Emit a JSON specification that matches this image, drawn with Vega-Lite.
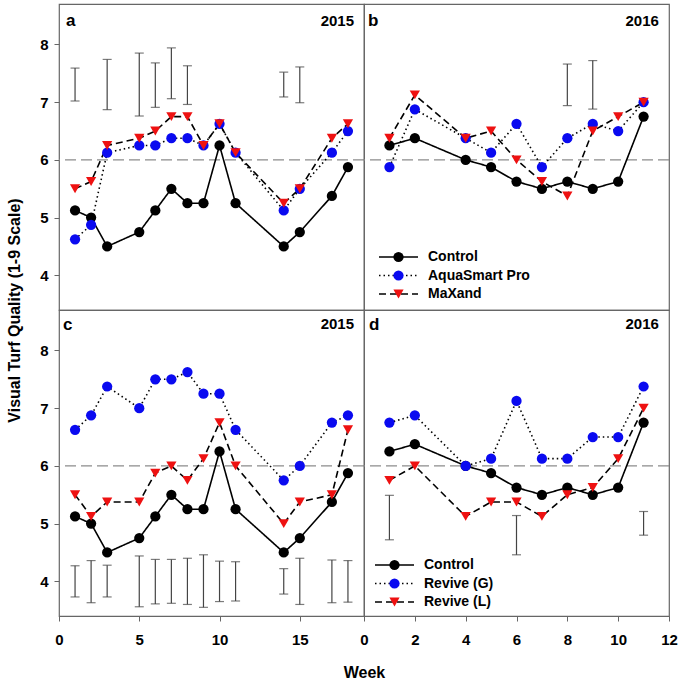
{
  "$schema": "https://vega.github.io/schema/vega-lite/v6.json",
  "background": "white",
  "padding": {"left": 6, "top": 3, "right": 0, "bottom": 0},
  "columns": 2,
  "spacing": 0,
  "bounds": "flush",
  "resolve": {
    "scale": {"x": "independent", "y": "independent", "color": "independent", "shape": "independent", "strokeDash": "independent"},
    "axis": {"x": "independent", "y": "independent"},
    "legend": {"color": "independent", "shape": "independent", "strokeDash": "independent"}
  },
  "datasets": {
    "panels": [
      {"panel": "a", "year": "2015"},
      {"panel": "b", "year": "2016"},
      {"panel": "c", "year": "2015"},
      {"panel": "d", "year": "2016"}
    ],
    "lsd": [
      {"panel": "a", "week": 1, "lo": 7.02, "hi": 7.59},
      {"panel": "a", "week": 3, "lo": 6.87, "hi": 7.74},
      {"panel": "a", "week": 5, "lo": 6.76, "hi": 7.85},
      {"panel": "a", "week": 6, "lo": 6.91, "hi": 7.68},
      {"panel": "a", "week": 7, "lo": 7.06, "hi": 7.94},
      {"panel": "a", "week": 8, "lo": 6.96, "hi": 7.63},
      {"panel": "a", "week": 14, "lo": 7.09, "hi": 7.52},
      {"panel": "a", "week": 15, "lo": 6.99, "hi": 7.61},
      {"panel": "b", "week": 8, "lo": 6.94, "hi": 7.66},
      {"panel": "b", "week": 9, "lo": 6.88, "hi": 7.72},
      {"panel": "c", "week": 1, "lo": 3.73, "hi": 4.27},
      {"panel": "c", "week": 2, "lo": 3.63, "hi": 4.36},
      {"panel": "c", "week": 3, "lo": 3.73, "hi": 4.28},
      {"panel": "c", "week": 5, "lo": 3.56, "hi": 4.44},
      {"panel": "c", "week": 6, "lo": 3.61, "hi": 4.38},
      {"panel": "c", "week": 7, "lo": 3.62, "hi": 4.38},
      {"panel": "c", "week": 8, "lo": 3.6, "hi": 4.4},
      {"panel": "c", "week": 9, "lo": 3.55, "hi": 4.46},
      {"panel": "c", "week": 10, "lo": 3.65, "hi": 4.35},
      {"panel": "c", "week": 11, "lo": 3.66, "hi": 4.34},
      {"panel": "c", "week": 14, "lo": 3.78, "hi": 4.22},
      {"panel": "c", "week": 15, "lo": 3.6, "hi": 4.4},
      {"panel": "c", "week": 17, "lo": 3.63, "hi": 4.37},
      {"panel": "c", "week": 18, "lo": 3.64, "hi": 4.36},
      {"panel": "d", "week": 1, "lo": 4.72, "hi": 5.49},
      {"panel": "d", "week": 6, "lo": 4.46, "hi": 5.14},
      {"panel": "d", "week": 11, "lo": 4.8, "hi": 5.21}
    ],
    "obs": [
      {"panel": "a", "series": "Control", "week": 1, "vtq": 5.125},
      {"panel": "a", "series": "Control", "week": 2, "vtq": 5.0},
      {"panel": "a", "series": "Control", "week": 3, "vtq": 4.5},
      {"panel": "a", "series": "Control", "week": 5, "vtq": 4.75},
      {"panel": "a", "series": "Control", "week": 6, "vtq": 5.125},
      {"panel": "a", "series": "Control", "week": 7, "vtq": 5.5},
      {"panel": "a", "series": "Control", "week": 8, "vtq": 5.25},
      {"panel": "a", "series": "Control", "week": 9, "vtq": 5.25},
      {"panel": "a", "series": "Control", "week": 10, "vtq": 6.25},
      {"panel": "a", "series": "Control", "week": 11, "vtq": 5.25},
      {"panel": "a", "series": "Control", "week": 14, "vtq": 4.5},
      {"panel": "a", "series": "Control", "week": 15, "vtq": 4.75},
      {"panel": "a", "series": "Control", "week": 17, "vtq": 5.375},
      {"panel": "a", "series": "Control", "week": 18, "vtq": 5.875},
      {"panel": "a", "series": "AquaSmart Pro", "week": 1, "vtq": 4.625},
      {"panel": "a", "series": "AquaSmart Pro", "week": 2, "vtq": 4.875},
      {"panel": "a", "series": "AquaSmart Pro", "week": 3, "vtq": 6.125},
      {"panel": "a", "series": "AquaSmart Pro", "week": 5, "vtq": 6.25},
      {"panel": "a", "series": "AquaSmart Pro", "week": 6, "vtq": 6.25},
      {"panel": "a", "series": "AquaSmart Pro", "week": 7, "vtq": 6.375},
      {"panel": "a", "series": "AquaSmart Pro", "week": 8, "vtq": 6.375},
      {"panel": "a", "series": "AquaSmart Pro", "week": 9, "vtq": 6.25},
      {"panel": "a", "series": "AquaSmart Pro", "week": 10, "vtq": 6.625},
      {"panel": "a", "series": "AquaSmart Pro", "week": 11, "vtq": 6.125},
      {"panel": "a", "series": "AquaSmart Pro", "week": 14, "vtq": 5.125},
      {"panel": "a", "series": "AquaSmart Pro", "week": 15, "vtq": 5.5},
      {"panel": "a", "series": "AquaSmart Pro", "week": 17, "vtq": 6.125},
      {"panel": "a", "series": "AquaSmart Pro", "week": 18, "vtq": 6.5},
      {"panel": "a", "series": "MaXand", "week": 1, "vtq": 5.5},
      {"panel": "a", "series": "MaXand", "week": 2, "vtq": 5.625},
      {"panel": "a", "series": "MaXand", "week": 3, "vtq": 6.25},
      {"panel": "a", "series": "MaXand", "week": 5, "vtq": 6.375},
      {"panel": "a", "series": "MaXand", "week": 6, "vtq": 6.5},
      {"panel": "a", "series": "MaXand", "week": 7, "vtq": 6.75},
      {"panel": "a", "series": "MaXand", "week": 8, "vtq": 6.75},
      {"panel": "a", "series": "MaXand", "week": 9, "vtq": 6.25},
      {"panel": "a", "series": "MaXand", "week": 10, "vtq": 6.625},
      {"panel": "a", "series": "MaXand", "week": 11, "vtq": 6.125},
      {"panel": "a", "series": "MaXand", "week": 14, "vtq": 5.25},
      {"panel": "a", "series": "MaXand", "week": 15, "vtq": 5.5},
      {"panel": "a", "series": "MaXand", "week": 17, "vtq": 6.375},
      {"panel": "a", "series": "MaXand", "week": 18, "vtq": 6.625},
      {"panel": "b", "series": "Control", "week": 1, "vtq": 6.25},
      {"panel": "b", "series": "Control", "week": 2, "vtq": 6.375},
      {"panel": "b", "series": "Control", "week": 4, "vtq": 6.0},
      {"panel": "b", "series": "Control", "week": 5, "vtq": 5.875},
      {"panel": "b", "series": "Control", "week": 6, "vtq": 5.625},
      {"panel": "b", "series": "Control", "week": 7, "vtq": 5.5},
      {"panel": "b", "series": "Control", "week": 8, "vtq": 5.625},
      {"panel": "b", "series": "Control", "week": 9, "vtq": 5.5},
      {"panel": "b", "series": "Control", "week": 10, "vtq": 5.625},
      {"panel": "b", "series": "Control", "week": 11, "vtq": 6.75},
      {"panel": "b", "series": "AquaSmart Pro", "week": 1, "vtq": 5.875},
      {"panel": "b", "series": "AquaSmart Pro", "week": 2, "vtq": 6.875},
      {"panel": "b", "series": "AquaSmart Pro", "week": 4, "vtq": 6.375},
      {"panel": "b", "series": "AquaSmart Pro", "week": 5, "vtq": 6.125},
      {"panel": "b", "series": "AquaSmart Pro", "week": 6, "vtq": 6.625},
      {"panel": "b", "series": "AquaSmart Pro", "week": 7, "vtq": 5.875},
      {"panel": "b", "series": "AquaSmart Pro", "week": 8, "vtq": 6.375},
      {"panel": "b", "series": "AquaSmart Pro", "week": 9, "vtq": 6.625},
      {"panel": "b", "series": "AquaSmart Pro", "week": 10, "vtq": 6.5},
      {"panel": "b", "series": "AquaSmart Pro", "week": 11, "vtq": 7.0},
      {"panel": "b", "series": "MaXand", "week": 1, "vtq": 6.375},
      {"panel": "b", "series": "MaXand", "week": 2, "vtq": 7.125},
      {"panel": "b", "series": "MaXand", "week": 4, "vtq": 6.375},
      {"panel": "b", "series": "MaXand", "week": 5, "vtq": 6.5},
      {"panel": "b", "series": "MaXand", "week": 6, "vtq": 6.0},
      {"panel": "b", "series": "MaXand", "week": 7, "vtq": 5.625},
      {"panel": "b", "series": "MaXand", "week": 8, "vtq": 5.375},
      {"panel": "b", "series": "MaXand", "week": 9, "vtq": 6.5},
      {"panel": "b", "series": "MaXand", "week": 10, "vtq": 6.75},
      {"panel": "b", "series": "MaXand", "week": 11, "vtq": 7.0},
      {"panel": "c", "series": "Control", "week": 1, "vtq": 5.125},
      {"panel": "c", "series": "Control", "week": 2, "vtq": 5.0},
      {"panel": "c", "series": "Control", "week": 3, "vtq": 4.5},
      {"panel": "c", "series": "Control", "week": 5, "vtq": 4.75},
      {"panel": "c", "series": "Control", "week": 6, "vtq": 5.125},
      {"panel": "c", "series": "Control", "week": 7, "vtq": 5.5},
      {"panel": "c", "series": "Control", "week": 8, "vtq": 5.25},
      {"panel": "c", "series": "Control", "week": 9, "vtq": 5.25},
      {"panel": "c", "series": "Control", "week": 10, "vtq": 6.25},
      {"panel": "c", "series": "Control", "week": 11, "vtq": 5.25},
      {"panel": "c", "series": "Control", "week": 14, "vtq": 4.5},
      {"panel": "c", "series": "Control", "week": 15, "vtq": 4.75},
      {"panel": "c", "series": "Control", "week": 17, "vtq": 5.375},
      {"panel": "c", "series": "Control", "week": 18, "vtq": 5.875},
      {"panel": "c", "series": "Revive (G)", "week": 1, "vtq": 6.625},
      {"panel": "c", "series": "Revive (G)", "week": 2, "vtq": 6.875},
      {"panel": "c", "series": "Revive (G)", "week": 3, "vtq": 7.375},
      {"panel": "c", "series": "Revive (G)", "week": 5, "vtq": 7.0},
      {"panel": "c", "series": "Revive (G)", "week": 6, "vtq": 7.5},
      {"panel": "c", "series": "Revive (G)", "week": 7, "vtq": 7.5},
      {"panel": "c", "series": "Revive (G)", "week": 8, "vtq": 7.625},
      {"panel": "c", "series": "Revive (G)", "week": 9, "vtq": 7.25},
      {"panel": "c", "series": "Revive (G)", "week": 10, "vtq": 7.25},
      {"panel": "c", "series": "Revive (G)", "week": 11, "vtq": 6.625},
      {"panel": "c", "series": "Revive (G)", "week": 14, "vtq": 5.75},
      {"panel": "c", "series": "Revive (G)", "week": 15, "vtq": 6.0},
      {"panel": "c", "series": "Revive (G)", "week": 17, "vtq": 6.75},
      {"panel": "c", "series": "Revive (G)", "week": 18, "vtq": 6.875},
      {"panel": "c", "series": "Revive (L)", "week": 1, "vtq": 5.5},
      {"panel": "c", "series": "Revive (L)", "week": 2, "vtq": 5.125},
      {"panel": "c", "series": "Revive (L)", "week": 3, "vtq": 5.375},
      {"panel": "c", "series": "Revive (L)", "week": 5, "vtq": 5.375},
      {"panel": "c", "series": "Revive (L)", "week": 6, "vtq": 5.875},
      {"panel": "c", "series": "Revive (L)", "week": 7, "vtq": 6.0},
      {"panel": "c", "series": "Revive (L)", "week": 8, "vtq": 5.75},
      {"panel": "c", "series": "Revive (L)", "week": 9, "vtq": 6.125},
      {"panel": "c", "series": "Revive (L)", "week": 10, "vtq": 6.75},
      {"panel": "c", "series": "Revive (L)", "week": 11, "vtq": 6.0},
      {"panel": "c", "series": "Revive (L)", "week": 14, "vtq": 5.0},
      {"panel": "c", "series": "Revive (L)", "week": 15, "vtq": 5.375},
      {"panel": "c", "series": "Revive (L)", "week": 17, "vtq": 5.5},
      {"panel": "c", "series": "Revive (L)", "week": 18, "vtq": 6.625},
      {"panel": "d", "series": "Control", "week": 1, "vtq": 6.25},
      {"panel": "d", "series": "Control", "week": 2, "vtq": 6.375},
      {"panel": "d", "series": "Control", "week": 4, "vtq": 6.0},
      {"panel": "d", "series": "Control", "week": 5, "vtq": 5.875},
      {"panel": "d", "series": "Control", "week": 6, "vtq": 5.625},
      {"panel": "d", "series": "Control", "week": 7, "vtq": 5.5},
      {"panel": "d", "series": "Control", "week": 8, "vtq": 5.625},
      {"panel": "d", "series": "Control", "week": 9, "vtq": 5.5},
      {"panel": "d", "series": "Control", "week": 10, "vtq": 5.625},
      {"panel": "d", "series": "Control", "week": 11, "vtq": 6.75},
      {"panel": "d", "series": "Revive (G)", "week": 1, "vtq": 6.75},
      {"panel": "d", "series": "Revive (G)", "week": 2, "vtq": 6.875},
      {"panel": "d", "series": "Revive (G)", "week": 4, "vtq": 6.0},
      {"panel": "d", "series": "Revive (G)", "week": 5, "vtq": 6.125},
      {"panel": "d", "series": "Revive (G)", "week": 6, "vtq": 7.125},
      {"panel": "d", "series": "Revive (G)", "week": 7, "vtq": 6.125},
      {"panel": "d", "series": "Revive (G)", "week": 8, "vtq": 6.125},
      {"panel": "d", "series": "Revive (G)", "week": 9, "vtq": 6.5},
      {"panel": "d", "series": "Revive (G)", "week": 10, "vtq": 6.5},
      {"panel": "d", "series": "Revive (G)", "week": 11, "vtq": 7.375},
      {"panel": "d", "series": "Revive (L)", "week": 1, "vtq": 5.75},
      {"panel": "d", "series": "Revive (L)", "week": 2, "vtq": 6.0},
      {"panel": "d", "series": "Revive (L)", "week": 4, "vtq": 5.125},
      {"panel": "d", "series": "Revive (L)", "week": 5, "vtq": 5.375},
      {"panel": "d", "series": "Revive (L)", "week": 6, "vtq": 5.375},
      {"panel": "d", "series": "Revive (L)", "week": 7, "vtq": 5.125},
      {"panel": "d", "series": "Revive (L)", "week": 8, "vtq": 5.5},
      {"panel": "d", "series": "Revive (L)", "week": 9, "vtq": 5.625},
      {"panel": "d", "series": "Revive (L)", "week": 10, "vtq": 6.125},
      {"panel": "d", "series": "Revive (L)", "week": 11, "vtq": 7.0}
    ]
  },
  "concat": [
    {
      "width": 305,
      "height": 306,
      "title": {"text": "a", "anchor": "start", "frame": "group", "offset": -26, "dx": 7, "fontSize": 17},
      "layer": [
        {
          "data": {"name": "lsd"},
          "transform": [{"filter": "datum.panel === 'a'"}],
          "mark": {"type": "rule", "color": "#444", "strokeWidth": 1.2},
          "encoding": {
            "x": {"field": "week", "type": "quantitative", "scale": {"domain": [0, 19], "nice": false}, "axis": null},
            "y": {"field": "lo", "type": "quantitative", "scale": {"domain": [3.4, 8.7], "nice": false, "zero": false}},
            "y2": {"field": "hi"}
          }
        },
        {
          "data": {"name": "lsd"},
          "transform": [{"filter": "datum.panel === 'a'"}],
          "mark": {"type": "tick", "orient": "horizontal", "size": 9, "thickness": 1.2, "color": "#444"},
          "encoding": {
            "x": {"field": "week", "type": "quantitative", "scale": {"domain": [0, 19], "nice": false}, "axis": null},
            "y": {"field": "lo", "type": "quantitative", "scale": {"domain": [3.4, 8.7], "nice": false, "zero": false}}
          }
        },
        {
          "data": {"name": "lsd"},
          "transform": [{"filter": "datum.panel === 'a'"}],
          "mark": {"type": "tick", "orient": "horizontal", "size": 9, "thickness": 1.2, "color": "#444"},
          "encoding": {
            "x": {"field": "week", "type": "quantitative", "scale": {"domain": [0, 19], "nice": false}, "axis": null},
            "y": {"field": "hi", "type": "quantitative", "scale": {"domain": [3.4, 8.7], "nice": false, "zero": false}}
          }
        },
        {
          "data": {"values": [{}]},
          "mark": {"type": "rule", "color": "#8c8c8c", "strokeWidth": 1.2, "strokeDash": [11, 5]},
          "encoding": {
            "y": {"datum": 6, "type": "quantitative", "scale": {"domain": [3.4, 8.7], "nice": false, "zero": false}}
          }
        },
        {
          "data": {"name": "obs"},
          "transform": [{"filter": "datum.panel === 'a'"}],
          "mark": {"type": "line", "color": "black", "strokeWidth": 1.6},
          "encoding": {
            "x": {"field": "week", "type": "quantitative", "scale": {"domain": [0, 19], "nice": false}, "axis": null},
            "y": {"field": "vtq", "type": "quantitative", "scale": {"domain": [3.4, 8.7], "nice": false, "zero": false},
              "axis": {"values": [4, 5, 6, 7, 8], "format": "d", "title": "Visual Turf Quality (1-9 Scale)", "titleY": 306, "titlePadding": 17, "labelPadding": 6}},
            "strokeDash": {"field": "series", "type": "nominal", "sort": ["Control", "AquaSmart Pro", "MaXand"], "scale": {"range": [[1, 0], [1.5, 3], [7, 4]]}, "legend": null}
          }
        },
        {
          "data": {"name": "obs"},
          "transform": [{"filter": "datum.panel === 'a'"}],
          "mark": {"type": "point", "filled": true, "size": 105, "opacity": 1},
          "encoding": {
            "x": {"field": "week", "type": "quantitative", "scale": {"domain": [0, 19], "nice": false}, "axis": null},
            "y": {"field": "vtq", "type": "quantitative", "scale": {"domain": [3.4, 8.7], "nice": false, "zero": false}},
            "color": {"field": "series", "type": "nominal", "scale": {"domain": ["Control", "AquaSmart Pro", "MaXand"], "range": ["black", "#0a0af0", "#ee1111"]}, "legend": null},
            "shape": {"field": "series", "type": "nominal", "scale": {"domain": ["Control", "AquaSmart Pro", "MaXand"], "range": ["circle", "circle", "triangle-down"]}, "legend": null}
          }
        },
        {
          "data": {"name": "panels"},
          "transform": [{"filter": "datum.panel === 'a'"}],
          "mark": {"type": "text", "align": "right", "baseline": "middle", "fontSize": 15, "fontWeight": "bold", "color": "black"},
          "encoding": {
            "x": {"datum": 18.38, "type": "quantitative", "scale": {"domain": [0, 19], "nice": false}, "axis": null},
            "y": {"datum": 8.4, "type": "quantitative", "scale": {"domain": [3.4, 8.7], "nice": false, "zero": false}},
            "text": {"field": "year"}
          }
        }
      ]
    },
    {
      "width": 305,
      "height": 306,
      "title": {"text": "b", "anchor": "start", "frame": "group", "offset": -26, "dx": 4, "fontSize": 17},
      "layer": [
        {
          "data": {"name": "lsd"},
          "transform": [{"filter": "datum.panel === 'b'"}],
          "mark": {"type": "rule", "color": "#444", "strokeWidth": 1.2},
          "encoding": {
            "x": {"field": "week", "type": "quantitative", "scale": {"domain": [0, 12], "nice": false}, "axis": null},
            "y": {"field": "lo", "type": "quantitative", "scale": {"domain": [3.4, 8.7], "nice": false, "zero": false}, "axis": null},
            "y2": {"field": "hi"}
          }
        },
        {
          "data": {"name": "lsd"},
          "transform": [{"filter": "datum.panel === 'b'"}],
          "mark": {"type": "tick", "orient": "horizontal", "size": 9, "thickness": 1.2, "color": "#444"},
          "encoding": {
            "x": {"field": "week", "type": "quantitative", "scale": {"domain": [0, 12], "nice": false}, "axis": null},
            "y": {"field": "lo", "type": "quantitative", "scale": {"domain": [3.4, 8.7], "nice": false, "zero": false}, "axis": null}
          }
        },
        {
          "data": {"name": "lsd"},
          "transform": [{"filter": "datum.panel === 'b'"}],
          "mark": {"type": "tick", "orient": "horizontal", "size": 9, "thickness": 1.2, "color": "#444"},
          "encoding": {
            "x": {"field": "week", "type": "quantitative", "scale": {"domain": [0, 12], "nice": false}, "axis": null},
            "y": {"field": "hi", "type": "quantitative", "scale": {"domain": [3.4, 8.7], "nice": false, "zero": false}, "axis": null}
          }
        },
        {
          "data": {"values": [{}]},
          "mark": {"type": "rule", "color": "#8c8c8c", "strokeWidth": 1.2, "strokeDash": [11, 5]},
          "encoding": {
            "y": {"datum": 6, "type": "quantitative", "scale": {"domain": [3.4, 8.7], "nice": false, "zero": false}, "axis": null}
          }
        },
        {
          "data": {"name": "obs"},
          "transform": [{"filter": "datum.panel === 'b'"}],
          "mark": {"type": "line", "color": "black", "strokeWidth": 1.6},
          "encoding": {
            "x": {"field": "week", "type": "quantitative", "scale": {"domain": [0, 12], "nice": false}, "axis": null},
            "y": {"field": "vtq", "type": "quantitative", "scale": {"domain": [3.4, 8.7], "nice": false, "zero": false}, "axis": null},
            "strokeDash": {"field": "series", "type": "nominal", "sort": ["Control", "AquaSmart Pro", "MaXand"], "scale": {"range": [[1, 0], [1.5, 3], [7, 4]]},
              "legend": {"orient": "none", "legendX": 14, "legendY": 246, "title": null, "padding": 0, "symbolType": "stroke", "symbolSize": 1521, "symbolStrokeWidth": 1.6, "symbolStrokeColor": "black", "clipHeight": 14, "rowPadding": 4.5, "labelOffset": 9, "labelFontSize": 14, "labelFontWeight": "bold", "labelColor": "black"}}
          }
        },
        {
          "data": {"name": "obs"},
          "transform": [{"filter": "datum.panel === 'b'"}],
          "mark": {"type": "point", "filled": true, "size": 105, "opacity": 1},
          "encoding": {
            "x": {"field": "week", "type": "quantitative", "scale": {"domain": [0, 12], "nice": false}, "axis": null},
            "y": {"field": "vtq", "type": "quantitative", "scale": {"domain": [3.4, 8.7], "nice": false, "zero": false}, "axis": null},
            "color": {"field": "series", "type": "nominal", "scale": {"domain": ["Control", "AquaSmart Pro", "MaXand"], "range": ["black", "#0a0af0", "#ee1111"]},
              "legend": {"orient": "none", "legendX": 27.5, "legendY": 246, "title": null, "padding": 0, "symbolSize": 105, "clipHeight": 14, "rowPadding": 4.5, "labelFontSize": 14, "labelExpr": "''"}},
            "shape": {"field": "series", "type": "nominal", "scale": {"domain": ["Control", "AquaSmart Pro", "MaXand"], "range": ["circle", "circle", "triangle-down"]},
              "legend": {"orient": "none", "legendX": 27.5, "legendY": 246, "title": null, "padding": 0, "symbolSize": 105, "clipHeight": 14, "rowPadding": 4.5, "labelFontSize": 14, "labelExpr": "''"}}
          }
        },
        {
          "data": {"name": "panels"},
          "transform": [{"filter": "datum.panel === 'b'"}],
          "mark": {"type": "text", "align": "right", "baseline": "middle", "fontSize": 15, "fontWeight": "bold", "color": "black"},
          "encoding": {
            "x": {"datum": 11.6, "type": "quantitative", "scale": {"domain": [0, 12], "nice": false}, "axis": null},
            "y": {"datum": 8.4, "type": "quantitative", "scale": {"domain": [3.4, 8.7], "nice": false, "zero": false}, "axis": null},
            "text": {"field": "year"}
          }
        }
      ]
    },
    {
      "width": 305,
      "height": 306,
      "title": {"text": "c", "anchor": "start", "frame": "group", "offset": -24, "dx": 4, "fontSize": 17},
      "layer": [
        {
          "data": {"name": "lsd"},
          "transform": [{"filter": "datum.panel === 'c'"}],
          "mark": {"type": "rule", "color": "#444", "strokeWidth": 1.2},
          "encoding": {
            "x": {"field": "week", "type": "quantitative", "scale": {"domain": [0, 19], "nice": false}},
            "y": {"field": "lo", "type": "quantitative", "scale": {"domain": [3.4, 8.7], "nice": false, "zero": false}},
            "y2": {"field": "hi"}
          }
        },
        {
          "data": {"name": "lsd"},
          "transform": [{"filter": "datum.panel === 'c'"}],
          "mark": {"type": "tick", "orient": "horizontal", "size": 9, "thickness": 1.2, "color": "#444"},
          "encoding": {
            "x": {"field": "week", "type": "quantitative", "scale": {"domain": [0, 19], "nice": false}},
            "y": {"field": "lo", "type": "quantitative", "scale": {"domain": [3.4, 8.7], "nice": false, "zero": false}}
          }
        },
        {
          "data": {"name": "lsd"},
          "transform": [{"filter": "datum.panel === 'c'"}],
          "mark": {"type": "tick", "orient": "horizontal", "size": 9, "thickness": 1.2, "color": "#444"},
          "encoding": {
            "x": {"field": "week", "type": "quantitative", "scale": {"domain": [0, 19], "nice": false}},
            "y": {"field": "hi", "type": "quantitative", "scale": {"domain": [3.4, 8.7], "nice": false, "zero": false}}
          }
        },
        {
          "data": {"values": [{}]},
          "mark": {"type": "rule", "color": "#8c8c8c", "strokeWidth": 1.2, "strokeDash": [11, 5]},
          "encoding": {
            "y": {"datum": 6, "type": "quantitative", "scale": {"domain": [3.4, 8.7], "nice": false, "zero": false}}
          }
        },
        {
          "data": {"name": "obs"},
          "transform": [{"filter": "datum.panel === 'c'"}],
          "mark": {"type": "line", "color": "black", "strokeWidth": 1.6},
          "encoding": {
            "x": {"field": "week", "type": "quantitative", "scale": {"domain": [0, 19], "nice": false},
              "axis": {"values": [0, 5, 10, 15], "title": "Week", "titleX": 305, "titlePadding": 17, "labelPadding": 11, "labelFlush": false}},
            "y": {"field": "vtq", "type": "quantitative", "scale": {"domain": [3.4, 8.7], "nice": false, "zero": false},
              "axis": {"values": [4, 5, 6, 7, 8], "format": "d", "title": null, "labelPadding": 6}},
            "strokeDash": {"field": "series", "type": "nominal", "sort": ["Control", "Revive (G)", "Revive (L)"], "scale": {"range": [[1, 0], [1.5, 3], [7, 4]]}, "legend": null}
          }
        },
        {
          "data": {"name": "obs"},
          "transform": [{"filter": "datum.panel === 'c'"}],
          "mark": {"type": "point", "filled": true, "size": 105, "opacity": 1},
          "encoding": {
            "x": {"field": "week", "type": "quantitative", "scale": {"domain": [0, 19], "nice": false}},
            "y": {"field": "vtq", "type": "quantitative", "scale": {"domain": [3.4, 8.7], "nice": false, "zero": false}},
            "color": {"field": "series", "type": "nominal", "scale": {"domain": ["Control", "Revive (G)", "Revive (L)"], "range": ["black", "#0a0af0", "#ee1111"]}, "legend": null},
            "shape": {"field": "series", "type": "nominal", "scale": {"domain": ["Control", "Revive (G)", "Revive (L)"], "range": ["circle", "circle", "triangle-down"]}, "legend": null}
          }
        },
        {
          "data": {"name": "panels"},
          "transform": [{"filter": "datum.panel === 'c'"}],
          "mark": {"type": "text", "align": "right", "baseline": "middle", "fontSize": 15, "fontWeight": "bold", "color": "black"},
          "encoding": {
            "x": {"datum": 18.38, "type": "quantitative", "scale": {"domain": [0, 19], "nice": false}},
            "y": {"datum": 8.45, "type": "quantitative", "scale": {"domain": [3.4, 8.7], "nice": false, "zero": false}},
            "text": {"field": "year"}
          }
        }
      ]
    },
    {
      "width": 305,
      "height": 306,
      "title": {"text": "d", "anchor": "start", "frame": "group", "offset": -24, "dx": 5, "fontSize": 17},
      "layer": [
        {
          "data": {"name": "lsd"},
          "transform": [{"filter": "datum.panel === 'd'"}],
          "mark": {"type": "rule", "color": "#444", "strokeWidth": 1.2},
          "encoding": {
            "x": {"field": "week", "type": "quantitative", "scale": {"domain": [0, 12], "nice": false}},
            "y": {"field": "lo", "type": "quantitative", "scale": {"domain": [3.4, 8.7], "nice": false, "zero": false}, "axis": null},
            "y2": {"field": "hi"}
          }
        },
        {
          "data": {"name": "lsd"},
          "transform": [{"filter": "datum.panel === 'd'"}],
          "mark": {"type": "tick", "orient": "horizontal", "size": 9, "thickness": 1.2, "color": "#444"},
          "encoding": {
            "x": {"field": "week", "type": "quantitative", "scale": {"domain": [0, 12], "nice": false}},
            "y": {"field": "lo", "type": "quantitative", "scale": {"domain": [3.4, 8.7], "nice": false, "zero": false}, "axis": null}
          }
        },
        {
          "data": {"name": "lsd"},
          "transform": [{"filter": "datum.panel === 'd'"}],
          "mark": {"type": "tick", "orient": "horizontal", "size": 9, "thickness": 1.2, "color": "#444"},
          "encoding": {
            "x": {"field": "week", "type": "quantitative", "scale": {"domain": [0, 12], "nice": false}},
            "y": {"field": "hi", "type": "quantitative", "scale": {"domain": [3.4, 8.7], "nice": false, "zero": false}, "axis": null}
          }
        },
        {
          "data": {"values": [{}]},
          "mark": {"type": "rule", "color": "#8c8c8c", "strokeWidth": 1.2, "strokeDash": [11, 5]},
          "encoding": {
            "y": {"datum": 6, "type": "quantitative", "scale": {"domain": [3.4, 8.7], "nice": false, "zero": false}, "axis": null}
          }
        },
        {
          "data": {"name": "obs"},
          "transform": [{"filter": "datum.panel === 'd'"}],
          "mark": {"type": "line", "color": "black", "strokeWidth": 1.6},
          "encoding": {
            "x": {"field": "week", "type": "quantitative", "scale": {"domain": [0, 12], "nice": false},
              "axis": {"values": [0, 2, 4, 6, 8, 10, 12], "title": null, "labelPadding": 11, "labelFlush": false}},
            "y": {"field": "vtq", "type": "quantitative", "scale": {"domain": [3.4, 8.7], "nice": false, "zero": false}, "axis": null},
            "strokeDash": {"field": "series", "type": "nominal", "sort": ["Control", "Revive (G)", "Revive (L)"], "scale": {"range": [[1, 0], [1.5, 3], [7, 4]]},
              "legend": {"orient": "none", "legendX": 10, "legendY": 248, "title": null, "padding": 0, "symbolType": "stroke", "symbolSize": 1521, "symbolStrokeWidth": 1.6, "symbolStrokeColor": "black", "clipHeight": 14, "rowPadding": 4.5, "labelOffset": 9, "labelFontSize": 14, "labelFontWeight": "bold", "labelColor": "black"}}
          }
        },
        {
          "data": {"name": "obs"},
          "transform": [{"filter": "datum.panel === 'd'"}],
          "mark": {"type": "point", "filled": true, "size": 105, "opacity": 1},
          "encoding": {
            "x": {"field": "week", "type": "quantitative", "scale": {"domain": [0, 12], "nice": false}},
            "y": {"field": "vtq", "type": "quantitative", "scale": {"domain": [3.4, 8.7], "nice": false, "zero": false}, "axis": null},
            "color": {"field": "series", "type": "nominal", "scale": {"domain": ["Control", "Revive (G)", "Revive (L)"], "range": ["black", "#0a0af0", "#ee1111"]},
              "legend": {"orient": "none", "legendX": 23.5, "legendY": 248, "title": null, "padding": 0, "symbolSize": 105, "clipHeight": 14, "rowPadding": 4.5, "labelFontSize": 14, "labelExpr": "''"}},
            "shape": {"field": "series", "type": "nominal", "scale": {"domain": ["Control", "Revive (G)", "Revive (L)"], "range": ["circle", "circle", "triangle-down"]},
              "legend": {"orient": "none", "legendX": 23.5, "legendY": 248, "title": null, "padding": 0, "symbolSize": 105, "clipHeight": 14, "rowPadding": 4.5, "labelFontSize": 14, "labelExpr": "''"}}
          }
        },
        {
          "data": {"name": "panels"},
          "transform": [{"filter": "datum.panel === 'd'"}],
          "mark": {"type": "text", "align": "right", "baseline": "middle", "fontSize": 15, "fontWeight": "bold", "color": "black"},
          "encoding": {
            "x": {"datum": 11.6, "type": "quantitative", "scale": {"domain": [0, 12], "nice": false}},
            "y": {"datum": 8.45, "type": "quantitative", "scale": {"domain": [3.4, 8.7], "nice": false, "zero": false}, "axis": null},
            "text": {"field": "year"}
          }
        }
      ]
    }
  ],
  "config": {
    "font": "Liberation Sans",
    "view": {"stroke": "#666", "strokeWidth": 1.2},
    "title": {"font": "Liberation Sans", "fontWeight": "bold", "color": "black", "baseline": "middle"},
    "axis": {
      "labelFont": "Liberation Sans", "titleFont": "Liberation Sans",
      "labelFontWeight": "bold", "titleFontWeight": "bold",
      "labelColor": "black", "titleColor": "black",
      "labelFontSize": 15, "titleFontSize": 16,
      "tickColor": "#666", "tickSize": 5, "tickWidth": 1,
      "grid": false, "domain": false
    },
    "legend": {"labelFont": "Liberation Sans", "labelLimit": 300}
  }
}
